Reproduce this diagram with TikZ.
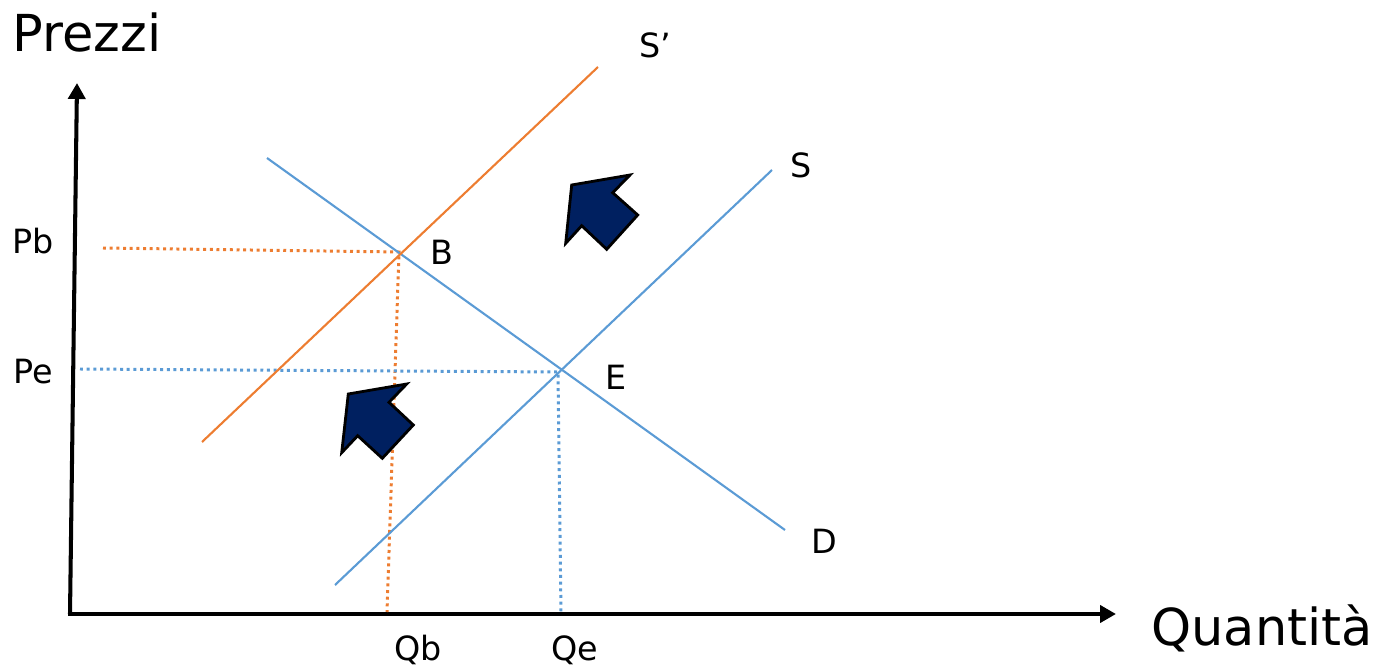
\documentclass[tikz,border=0pt]{standalone}
\usepackage{fontspec}
\setmainfont{DejaVu Sans}
\usetikzlibrary{arrows.meta}
\definecolor{lineblue}{HTML}{5B9BD5}
\definecolor{lineorange}{HTML}{ED7D31}
\definecolor{shiftnavy}{HTML}{002060}

\begin{document}
\begin{tikzpicture}[
    x=0.02cm, y=-0.02cm,
    axis/.style={
        line width=2.3pt,
        -{Triangle[length=0.32cm,width=0.34cm]}
    },
    curveblue/.style={lineblue, line width=1.2pt},
    curveorange/.style={lineorange, line width=1.2pt},
    guide/.style={line width=1.7pt, dash pattern=on 1.7pt off 2.1pt},
    shiftarrow/.style={
        fill=shiftnavy,
        draw=black,
        line width=1.6pt,
        line join=miter
    },
    big/.style={font=\fontsize{29}{32}\selectfont},
    lbl/.style={font=\fontsize{19}{22}\selectfont}
]
\useasboundingbox (0,0) rectangle (1379,672);

% axes
\coordinate (origin) at (70,614);
\coordinate (ytop) at (77,83);
\coordinate (xend) at (1116,614);
\draw[axis] (origin) -- (ytop);
\draw[axis] ([xshift=-0.04cm]origin) -- (xend);

% curve ends
\coordinate (d1) at (267,158);
\coordinate (d2) at (785,530);
\coordinate (s1) at (335,585);
\coordinate (s2) at (772,170);
\coordinate (sp1) at (202,442);
\coordinate (sp2) at (598,67);

% equilibria and projections
\coordinate (B) at (399,252);
\coordinate (E) at (558,372);
\coordinate (pb) at (103,248);
\coordinate (qb) at (387,612);
\coordinate (pe) at (80,369);
\coordinate (qe) at (561,612);

\draw[guide, lineorange] (pb) -- (B) -- (qb);
\draw[guide, lineblue] (pe) -- (E) -- (qe);

\draw[curveblue] (d1) -- (d2);
\draw[curveblue] (s1) -- (s2);
\draw[curveorange] (sp1) -- (sp2);

% shift arrows
\draw[shiftarrow] (571.7,185) -- (630,175) -- (612.7,192.7) -- (637.7,215)
    -- (606.7,249.3) -- (581.7,225.7) -- (565.7,243.3) -- cycle;
\draw[shiftarrow] (348.3,394) -- (406.7,384) -- (389,402.3) -- (413.3,425)
    -- (382.3,458.3) -- (357.7,435.7) -- (341.7,452.7) -- cycle;

% labels
\node[big] (prezzi) at (87,33) {Prezzi};
\node[big] (quant) at (1262,628) {Quantità};
\node[lbl] (lsp) at (655,45) {S’};
\node[lbl] (ls) at (801,165) {S};
\node[lbl] (ld) at (824,541) {D};
\node[lbl] (lb) at (442,252) {B};
\node[lbl] (le) at (616,377) {E};
\node[lbl] (lpb) at (33,241) {Pb};
\node[lbl] (lpe) at (33,372) {Pe};
\node[lbl] (lqb) at (418,650) {Qb};
\node[lbl] (lqe) at (575,650) {Qe};

\end{tikzpicture}
\end{document}
